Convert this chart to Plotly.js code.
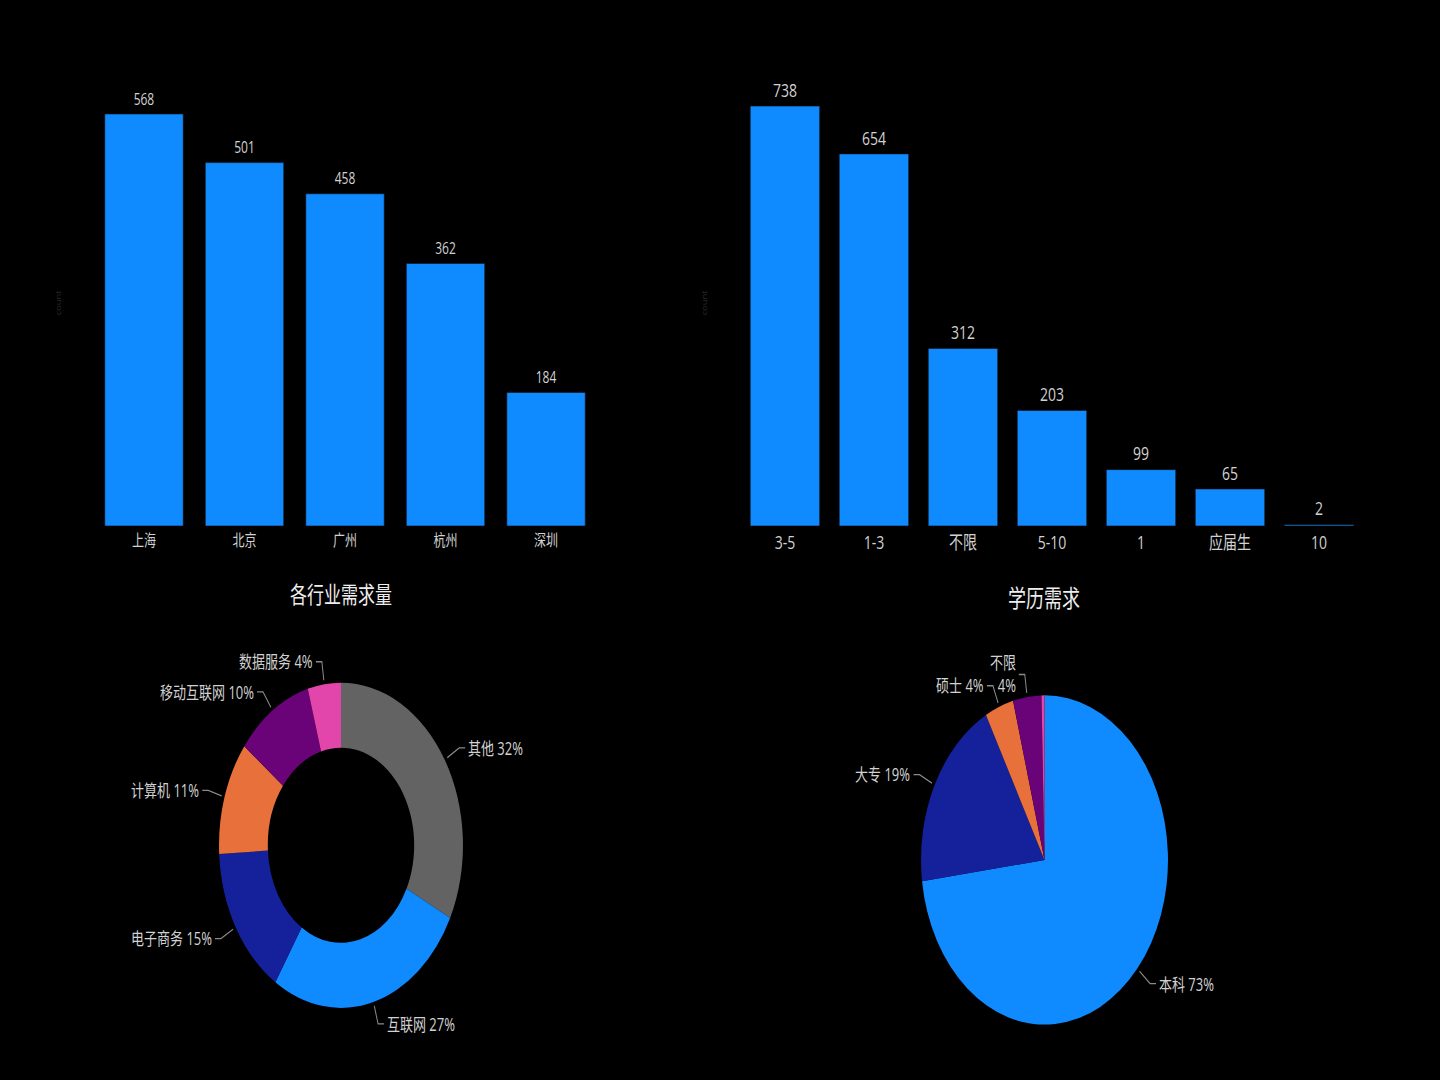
<!DOCTYPE html>
<html>
<head>
<meta charset="utf-8">
<script src="https://cdn.plot.ly/plotly-3.0.1.min.js"></script>
<style>
  html, body { margin: 0; padding: 0; background: #000; }
  #wrap { width: 1440px; height: 1080px; overflow: hidden; }
  /* the reference is a 16:9 render stretched to 4:3, so draw at 810 high and stretch */
  #chart { width: 1440px; height: 810px; transform: scaleY(1.3333); transform-origin: 0 0; }
</style>
</head>
<body>
<div id="wrap"><div id="chart"></div></div>
<script>
// city demand (top left)
const cities = ['上海', '北京', '广州', '杭州', '深圳'];
const cityCounts = [568, 501, 458, 362, 184];

// years of experience (top right)
const years = ['3-5', '1-3', '不限', '5-10', '1', '应届生', '10'];
const yearCounts = [738, 654, 312, 203, 99, 65, 2];

// industry demand (donut)
const industries = ['其他', '互联网', '电子商务', '计算机', '移动互联网', '数据服务'];
const industryCounts = [671, 553, 313, 234, 211, 91];
const industryColors = ['#636363', '#0f8bff', '#15219b', '#e8703b', '#6a0278', '#e246aa'];

// education (pie)
const degrees = ['本科', '大专', '硕士', '不限', '博士'];
const degreeCounts = [1512, 398, 78, 77, 8];
const degreeColors = ['#0f8bff', '#15219b', '#e8703b', '#6a0278', '#e246aa'];

const W = 1440, H = 810;
const BLUE = '#0f8bff';
const TEXT = '#d2d2d2';
const FONT = '"Open Sans", "Noto Sans CJK SC", sans-serif';

const donutDomain = { x: [0.1521, 0.3215], y: [0.0667, 0.3679] };
const pieDomain = { x: [0.6396, 0.8111], y: [0.0512, 0.3562] };

// outside labels with a bent leader line, worked out from each slice's mid angle
function sliceLabels(labels, values, domain, skip, wrap) {
  const total = values.reduce((a, b) => a + b, 0);
  const cx = (domain.x[0] + domain.x[1]) / 2 * W;
  const cy = (1 - (domain.y[0] + domain.y[1]) / 2) * H;
  const r = Math.min((domain.x[1] - domain.x[0]) * W, (domain.y[1] - domain.y[0]) * H) / 2;
  const notes = [], lines = [];
  let cum = 0;
  values.forEach((v, i) => {
    const mid = (cum + v / 2) / total * 2 * Math.PI;
    cum += v;
    if (skip.includes(labels[i])) return;
    const ux = Math.sin(mid), uy = -Math.cos(mid);
    const side = ux >= 0 ? 1 : -1;
    const ax = cx + ux * (r + 3), ay = cy + uy * (r + 3);
    const bx = cx + ux * (r + 17), by = cy + uy * (r + 17);
    const ex = bx + side * 6;
    const px = x => (x / W).toFixed(5), py = y => (1 - y / H).toFixed(5);
    lines.push({
      type: 'path', xref: 'paper', yref: 'paper',
      path: `M${px(ax)},${py(ay)} L${px(bx)},${py(by)} L${px(ex)},${py(by)}`,
      line: { color: '#8a8a8a', width: 1 }
    });
    const pct = Math.round(v / total * 100) + '%';
    notes.push({
      text: labels[i] + (wrap.includes(labels[i]) ? '<br>' : ' ') + pct,
      x: (ex + side * 1) / W, y: 1 - by / H, xref: 'paper', yref: 'paper',
      xanchor: side > 0 ? 'left' : 'right', yanchor: 'middle',
      align: side > 0 ? 'left' : 'right', showarrow: false,
      font: { size: 13, color: TEXT }
    });
  });
  return { notes, lines };
}

const donutLab = sliceLabels(industries, industryCounts, donutDomain, [], []);
const pieLab = sliceLabels(degrees, degreeCounts, pieDomain, ['博士'], ['不限']);

const traces = [
  {
    type: 'bar', x: cities, y: cityCounts, xaxis: 'x', yaxis: 'y',
    marker: { color: BLUE, line: { color: 'rgb(17,17,17)', width: 0.5 } },
    texttemplate: '%{y}', textposition: 'outside', cliponaxis: false,
    textfont: { color: TEXT, size: 12 }
  },
  {
    type: 'bar', x: years, y: yearCounts, xaxis: 'x2', yaxis: 'y2',
    marker: { color: BLUE, line: { color: 'rgb(17,17,17)', width: 0.5 } },
    texttemplate: '%{y}', textposition: 'outside', cliponaxis: false,
    textfont: { color: TEXT, size: 14 }
  },
  {
    type: 'pie', labels: industries, values: industryCounts, hole: 0.6,
    sort: false, direction: 'clockwise', rotation: 0, domain: donutDomain,
    marker: { colors: industryColors }, textinfo: 'none'
  },
  {
    type: 'pie', labels: degrees, values: degreeCounts,
    sort: false, direction: 'clockwise', rotation: 0, domain: pieDomain,
    marker: { colors: degreeColors }, textinfo: 'none'
  }
];

const hiddenY = (range, domain) => ({
  range: range, domain: domain, showticklabels: false, showgrid: false, zeroline: false,
  title: { text: 'count', font: { size: 7, color: '#2a2a2a' }, standoff: 30 }
});

const layout = {
  width: W, height: H,
  margin: { l: 0, r: 0, t: 0, b: 0 },
  paper_bgcolor: '#000', plot_bgcolor: '#000',
  font: { family: FONT, color: TEXT },
  showlegend: false,
  bargap: 0.22,
  xaxis: { domain: [0.0651, 0.4141], range: [-0.5, 4.5], type: 'category', anchor: 'y',
           showgrid: false, zeroline: false, ticklabelstandoff: 2, tickfont: { size: 12, color: TEXT } },
  yaxis: hiddenY([0, 615], [0.513, 0.926]),
  xaxis2: { domain: [0.5142, 0.9469], range: [-0.5, 6.5], type: 'category', anchor: 'y2',
            showgrid: false, zeroline: false, ticklabelstandoff: 2, tickfont: { size: 14, color: TEXT } },
  yaxis2: Object.assign(hiddenY([0, 784], [0.513, 0.926]), { anchor: 'x2' }),
  shapes: [...donutLab.lines, ...pieLab.lines],
  annotations: [
    { text: '各行业需求量', x: 0.2368, y: 0.4494, xref: 'paper', yref: 'paper',
      xanchor: 'center', yanchor: 'middle',
      showarrow: false, font: { size: 17, color: '#eeeeee' } },
    { text: '学历需求', x: 0.725, y: 0.4469, xref: 'paper', yref: 'paper',
      xanchor: 'center', yanchor: 'middle',
      showarrow: false, font: { size: 18, color: '#eeeeee' } },
    ...donutLab.notes, ...pieLab.notes
  ]
};

Plotly.newPlot('chart', traces, layout, { displayModeBar: false, staticPlot: true });
</script>
</body>
</html>
